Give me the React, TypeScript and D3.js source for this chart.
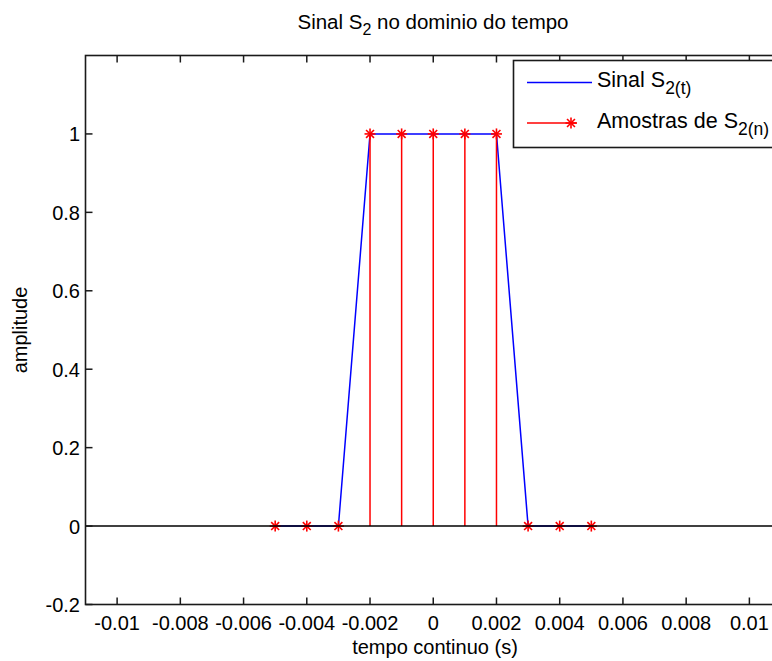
import React, { useEffect } from "react";
import * as d3 from "d3";

// ---- data ----
const sampleTimes = [-0.005, -0.004, -0.003, -0.002, -0.001, 0, 0.001, 0.002, 0.003, 0.004, 0.005];
const sampleValues = [0, 0, 0, 1, 1, 1, 1, 1, 0, 0, 0];
const signalTimes = [-0.005, -0.004, -0.003, -0.002, -0.001, 0, 0.001, 0.002, 0.003, 0.004, 0.005];
const signalValues = [0, 0, 0, 1, 1, 1, 1, 1, 0, 0, 0];
const xTicks = [-0.01, -0.008, -0.006, -0.004, -0.002, 0, 0.002, 0.004, 0.006, 0.008, 0.01];
const xTickLabels = ["-0.01", "-0.008", "-0.006", "-0.004", "-0.002", "0", "0.002", "0.004", "0.006", "0.008", "0.01"];
const yTicks = [-0.2, 0, 0.2, 0.4, 0.6, 0.8, 1];
const yTickLabels = ["-0.2", "0", "0.2", "0.4", "0.6", "0.8", "1"];
const xDomain = [-0.011, 0.011];
const yDomain = [-0.2, 1.2];

const FONT = "'Liberation Sans', Arial, Helvetica, sans-serif";

function Star({ cx, cy, r, color }: { cx: number; cy: number; r: number; color: string }) {
  const d = r * 0.72;
  return (
    <g stroke={color} strokeWidth={1.6}>
      <line x1={cx - r} y1={cy} x2={cx + r} y2={cy} />
      <line x1={cx} y1={cy - r} x2={cx} y2={cy + r} />
      <line x1={cx - d} y1={cy - d} x2={cx + d} y2={cy + d} />
      <line x1={cx - d} y1={cy + d} x2={cx + d} y2={cy - d} />
    </g>
  );
}

export default function App() {
  useEffect(() => {
    document.body.style.margin = "0";
  }, []);

  const W = 772;
  const H = 661;
  const left = 85.5;
  const right = 781;
  const top = 55.5;
  const bottom = 604.5;

  const x = d3.scaleLinear().domain(xDomain).range([left, right]);
  const y = d3.scaleLinear().domain(yDomain).range([bottom, top]);

  const line = d3
    .line<number>()
    .x((_, i) => x(signalTimes[i]))
    .y((v) => y(v));

  const tickLen = 7;
  const axisColor = "#1a1a1a";
  const fs = 20;
  const lfs = 21.5;

  return (
    <svg width={W} height={H} style={{ display: "block", background: "#fff" }} fontFamily={FONT}>
      <rect x={0} y={0} width={W} height={H} fill="#fff" />
      {/* title */}
      <text x={433} y={29} fontSize={20.5} textAnchor="middle" fill="#000">
        Sinal S<tspan fontSize={16} dy={6}>2</tspan>
        <tspan dy={-6}> no dominio do tempo</tspan>
      </text>

      {/* plot area */}
      <rect x={left} y={top} width={right - left} height={bottom - top} fill="#fff" />

      {/* continuous signal */}
      <path d={line(signalValues) || ""} fill="none" stroke="#0000ff" strokeWidth={1.5} />

      {/* stems */}
      {sampleTimes.map((t, i) => (
        <line
          key={"s" + i}
          x1={x(t)}
          x2={x(t)}
          y1={y(0)}
          y2={y(sampleValues[i])}
          stroke="#ff0000"
          strokeWidth={1.5}
        />
      ))}
      {sampleTimes.map((t, i) => (
        <Star key={"m" + i} cx={x(t)} cy={y(sampleValues[i])} r={5.5} color="#ff0000" />
      ))}

      {/* baseline */}
      <line x1={left} x2={right} y1={y(0)} y2={y(0)} stroke="#000" strokeWidth={1.5} />

      {/* axes box */}
      <rect x={left} y={top} width={right - left} height={bottom - top} fill="none" stroke={axisColor} strokeWidth={1.6} />

      {/* x ticks */}
      {xTicks.map((t, i) => (
        <g key={"xt" + i}>
          <line x1={x(t)} x2={x(t)} y1={bottom} y2={bottom - tickLen} stroke={axisColor} strokeWidth={1.5} />
          <line x1={x(t)} x2={x(t)} y1={top} y2={top + tickLen} stroke={axisColor} strokeWidth={1.5} />
          <text x={x(t)} y={630} fontSize={fs} textAnchor="middle" fill="#000">
            {xTickLabels[i]}
          </text>
        </g>
      ))}

      {/* y ticks */}
      {yTicks.map((v, i) => (
        <g key={"yt" + i}>
          <line x1={left} x2={left + tickLen} y1={y(v)} y2={y(v)} stroke={axisColor} strokeWidth={1.5} />
          <line x1={right} x2={right - tickLen} y1={y(v)} y2={y(v)} stroke={axisColor} strokeWidth={1.5} />
          <text x={80} y={y(v) + 7.5} fontSize={fs} textAnchor="end" fill="#000">
            {yTickLabels[i]}
          </text>
        </g>
      ))}

      {/* axis labels */}
      <text x={435} y={654} fontSize={fs} textAnchor="middle" fill="#000">
        tempo continuo (s)
      </text>
      <text transform={`translate(27, ${(top + bottom) / 2}) rotate(-90)`} fontSize={fs} textAnchor="middle" fill="#000">
        amplitude
      </text>

      {/* legend */}
      <rect x={513.5} y={60.5} width={300} height={87} fill="#fff" stroke={axisColor} strokeWidth={1.6} />
      <line x1={527} x2={592} y1={82.5} y2={82.5} stroke="#0000ff" strokeWidth={1.5} />
      <text x={597} y={87} fontSize={lfs} fill="#000">
        Sinal S<tspan fontSize={17.5} dy={7}>2(t)</tspan>
      </text>
      <line x1={527} x2={577} y1={123} y2={123} stroke="#ff0000" strokeWidth={1.5} />
      <Star cx={571} cy={123} r={5.5} color="#ff0000" />
      <text x={597} y={127.5} fontSize={lfs} fill="#000">
        Amostras de S<tspan fontSize={17.5} dy={7}>2(n)</tspan>
      </text>
    </svg>
  );
}
